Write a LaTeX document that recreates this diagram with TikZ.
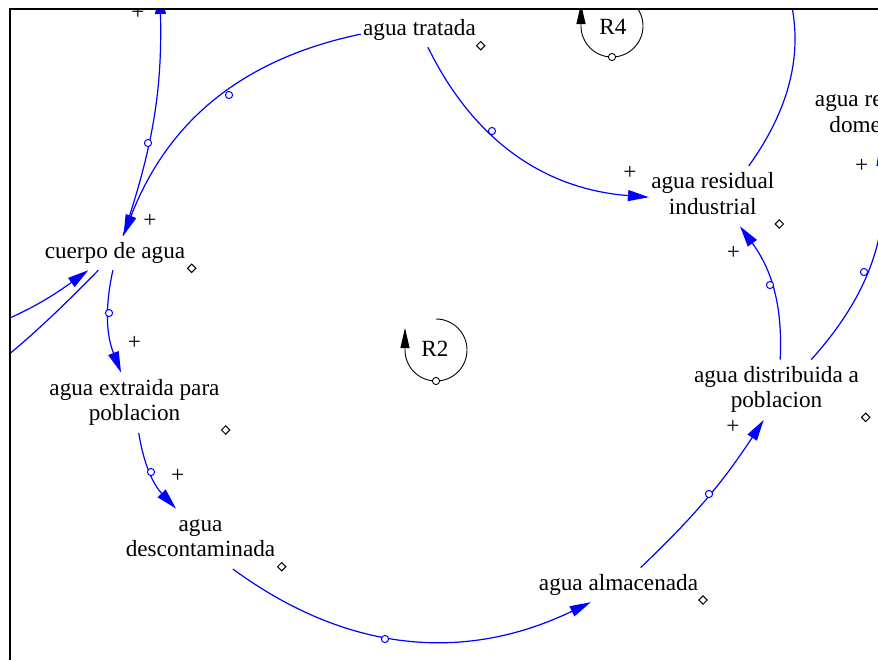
\documentclass[tikz,border=0pt]{standalone}
\usepackage{fontspec}
\setmainfont{Liberation Serif}
\usetikzlibrary{arrows.meta,shapes.geometric}

\tikzset{
  var/.style={align=center, inner xsep=1pt, inner ysep=2pt, text height=9pt, text depth=3.9pt},
  vartwo/.style={var, text height=21.9pt},
  causal/.style={blue, line width=0.6pt, -{Triangle[length=10.5pt,width=5.5pt]}},
  linkdot/.style={circle, draw=blue, fill=white, line width=0.5pt, inner sep=0pt, minimum size=3.6pt},
  cornermark/.style={diamond, draw, line width=0.5pt, inner sep=0pt, minimum size=4.4pt},
  polarity/.style={inner sep=0pt},
  loopline/.style={line width=0.45pt, -{Triangle[length=10pt,width=4.5pt]}},
  loopdot/.style={circle, draw, fill=white, line width=0.45pt, inner sep=0pt, minimum size=3.6pt}
}

\begin{document}
\begin{tikzpicture}[x=0.5pt, y=0.5pt, font=\fontsize{11.6}{12.9}\selectfont]

\useasboundingbox (0,0) rectangle (878,-660);

\begin{scope}
\clip (10,-8) rectangle (878,-660);

% Variables
\node[var] (tratada) at (419.5,-30) {agua tratada};
\node[var] (cuerpo) at (115,-252.9) {cuerpo de agua};
\node[vartwo] (extraida) at (134.5,-402.8) {agua extraida para\\poblacion};
\node[vartwo] (descont) at (200.5,-538.8) {agua\\descontaminada};
\node[var] (almacen) at (618.5,-584.9) {agua almacenada};
\node[vartwo] (distrib) at (776.5,-389.8) {agua distribuida a\\poblacion};
\node[vartwo] (industrial) at (712.8,-196.1) {agua residual\\industrial};
\node[vartwo] (domestica) at (876.5,-114.5) {agua residual\\domestica};

% Ends outside the window
\coordinate (arriba) at (160,7);
\coordinate (izqentra) at (-40,-338);
\coordinate (izqsale) at (-40,-393);
\coordinate (tratamiento) at (782,30);

% Links
\draw[causal] (tratada.184.8) to[bend right=28.5] (cuerpo.64.7);
\draw[causal] (cuerpo.65) to[bend right=10] (arriba);
\draw[causal] (izqentra) to[bend right=8] (cuerpo.213.3);
\draw[causal] (cuerpo) to[bend left=4] (izqsale);
\draw[causal] (cuerpo.263.3) to[bend right=16.7] (extraida.114.4);
\draw[causal] (extraida.278.6) to[bend right=17.1] (descont.129.4);
\draw[causal] (descont.317.5) to[bend right=31] (almacen.212.5);
\draw[causal] (almacen.38.2) to[bend right=6.5] (distrib.247.2);
\draw[causal] (distrib.83.3) to[bend right=19.4] (industrial.312.4);
\draw[causal] (tratada.296.7) to[bend right=29.7] (industrial.181.7);
\draw[causal] (industrial.40.4) to[bend right=26] (tratamiento);
\draw[causal] (distrib.41.7) to[bend right=24.3] (domestica.276.7);

% Link handles
\node[linkdot] (h-tc) at (229,-95) {};
\node[linkdot] (h-ca) at (148,-143) {};
\node[linkdot] (h-ce) at (109,-313) {};
\node[linkdot] (h-ed) at (151,-472) {};
\node[linkdot] (h-da) at (385,-639) {};
\node[linkdot] (h-ad) at (709,-494) {};
\node[linkdot] (h-di) at (770,-285) {};
\node[linkdot] (h-ti) at (492,-131) {};
\node[linkdot] (h-dd) at (864,-272) {};

% Polarities
\node[polarity] (p-ca) at (138,-13) {+};
\node[polarity] (p-tc) at (150,-220.7) {+};
\node[polarity] (p-ce) at (134.3,-343.3) {+};
\node[polarity] (p-ed) at (177.7,-475.7) {+};
\node[polarity] (p-ti) at (630,-173.3) {+};
\node[polarity] (p-di) at (733.3,-252.7) {+};
\node[polarity] (p-ad) at (733,-427) {+};
\node[polarity] (p-dd) at (861.7,-166) {+};

% Variable marks
\node[cornermark] (m-tratada) at (480.7,-45.7) {};
\node[cornermark] (m-cuerpo) at (191.7,-268.3) {};
\node[cornermark] (m-extraida) at (225.7,-430) {};
\node[cornermark] (m-descont) at (281.7,-566.7) {};
\node[cornermark] (m-almacen) at (703,-600) {};
\node[cornermark] (m-distrib) at (865.7,-417.3) {};
\node[cornermark] (m-industrial) at (779.3,-224) {};

% Loops
\node (R2) at (435,-349) {R2};
\draw[loopline] (436,-319) arc[start angle=90, end angle=-180, radius=31] -- ++(0,22);
\node[loopdot] (R2dot) at (436,-381) {};

\node (R4) at (613,-26.6) {R4};
\draw[loopline] (612,5) arc[start angle=90, end angle=-180, radius=31] -- ++(0,22);
\node[loopdot] (R4dot) at (612,-57) {};

\end{scope}

% Window frame
\draw[line width=1pt] (10.3,-660) -- (10.3,-8.7) -- (878,-8.7);

\end{tikzpicture}
\end{document}
